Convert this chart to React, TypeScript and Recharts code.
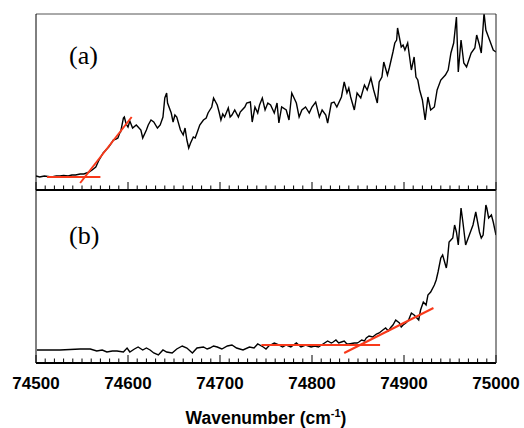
import { LineChart, Line, XAxis, YAxis, ReferenceLine } from "recharts";

// x axis: wavenumber in cm-1
const majorTicks = [74500, 74600, 74700, 74800, 74900, 75000];
const minorStep = 10;

// panel (a) spectrum
const wnA = [
  74500, 74504, 74509, 74513, 74517, 74522, 74526, 74530, 74535, 74539, 74543, 74548, 74552, 74555, 74558,
  74561, 74565, 74568, 74573, 74576, 74579, 74582, 74584, 74587, 74589, 74591, 74592, 74595, 74596, 74598,
  74600, 74602, 74605, 74609, 74611, 74614, 74616, 74620, 74622, 74625, 74628, 74632, 74635, 74638, 74640,
  74642, 74643, 74647, 74649, 74651, 74653, 74657, 74660, 74662, 74664, 74666, 74668, 74671, 74673, 74675,
  74678, 74682, 74685, 74687, 74689, 74691, 74693, 74697, 74699, 74701, 74703, 74705, 74709, 74711, 74713,
  74716, 74720, 74722, 74724, 74727, 74729, 74733, 74735, 74738, 74741, 74743, 74746, 74749, 74752, 74755,
  74759, 74762, 74764, 74767, 74772, 74775, 74778, 74780, 74783, 74786, 74789, 74793, 74797, 74800, 74804,
  74808, 74811, 74815, 74817, 74821, 74824, 74827, 74832, 74835, 74838, 74840, 74842, 74846, 74849, 74853,
  74857, 74860, 74864, 74867, 74871, 74873, 74876, 74878, 74882, 74884, 74886, 74888, 74890, 74892, 74893,
  74897, 74899, 74901, 74904, 74908, 74911, 74913, 74915, 74917, 74920, 74923, 74926, 74929, 74933, 74936,
  74940, 74945, 74948, 74951, 74954, 74957, 74959, 74962, 74965, 74968, 74973, 74977, 74979, 74982, 74984,
  74987, 74989, 74991, 74993, 74997, 75000,
];
const sigA = [
  14, 13, 14, 13.5, 13, 14, 14, 14.5, 14, 15, 15, 16, 16, 17, 18,
  20, 23, 29, 37, 40, 43, 47, 50, 51, 52, 57, 58, 72, 73, 66,
  63, 69, 62, 65, 63, 60, 52, 60, 65, 70, 68, 62, 65, 73, 92,
  97, 87, 77, 68, 75, 73, 60, 55, 62, 50, 42, 47, 53, 52, 57,
  65, 70, 72, 77, 80, 83, 92, 85, 78, 70, 76, 73, 82, 73, 75,
  80, 73, 78, 80, 83, 87, 88, 68, 83, 77, 85, 92, 80, 87, 85,
  77, 87, 67, 83, 80, 70, 97, 93, 87, 73, 80, 83, 77, 83, 88,
  73, 80, 75, 67, 87, 88, 83, 93, 108, 97, 102, 93, 80, 97, 92,
  105, 100, 112, 100, 87, 108, 113, 128, 115, 122, 130, 138, 147, 150, 162,
  143, 145, 140, 147, 120, 133, 113, 110, 100, 90, 70, 93, 80, 83, 100,
  110, 115, 120, 137, 147, 173, 118, 150, 127, 123, 137, 142, 155, 145, 137,
  177, 160, 155, 150, 140, 138,
];

// panel (a) fitted lines
const fitAFlatWn = [74512, 74570];
const fitAFlatVal = [13, 13];
const fitASlopeWn = [74548, 74604];
const fitASlopeVal = [7, 73];

// panel (b) spectrum
const wnB = [
  74501, 74513, 74526, 74537, 74548, 74559, 74566, 74572, 74577, 74583, 74588, 74595, 74599, 74602, 74607,
  74611, 74616, 74620, 74624, 74628, 74633, 74638, 74642, 74648, 74653, 74659, 74664, 74670, 74675, 74682,
  74686, 74689, 74693, 74697, 74702, 74708, 74713, 74718, 74725, 74732, 74737, 74741, 74747, 74750, 74753,
  74759, 74764, 74768, 74772, 74777, 74783, 74788, 74793, 74799, 74803, 74807, 74812, 74817, 74821, 74823,
  74826, 74829, 74832, 74835, 74838, 74840, 74846, 74849, 74851, 74854, 74857, 74859, 74862, 74866, 74870,
  74873, 74877, 74880, 74883, 74886, 74888, 74891, 74895, 74897, 74899, 74902, 74905, 74908, 74911, 74913,
  74916, 74918, 74921, 74924, 74926, 74929, 74933, 74935, 74937, 74940, 74942, 74946, 74947, 74949, 74951,
  74953, 74955, 74957, 74959, 74961, 74962, 74964, 74967, 74971, 74973, 74975, 74978, 74982, 74984, 74986,
  74989, 74990, 74992, 74995, 74997, 75000,
];
const sigB = [
  13, 13, 13, 13.5, 14, 14, 12, 13, 11, 12, 12, 11, 15, 11, 14,
  16, 13, 15, 13, 10, 8, 13, 11, 10, 14, 17, 15, 10, 15, 16,
  14, 15, 17, 16, 14, 17, 18, 15, 13, 16, 15, 19, 16, 14, 17,
  20, 18, 16, 18, 16, 20, 16, 18, 16, 17, 16, 19, 22, 20, 21,
  23, 20, 21, 22, 19, 19, 20, 20, 21, 23, 22, 25, 27, 26, 29,
  30, 33, 35, 32, 36, 38, 43, 40, 36, 38, 40, 43, 50, 48, 46,
  43, 53, 61, 58, 68, 71, 78, 83, 91, 105, 108, 95, 101, 121, 123,
  125, 138, 131, 118, 143, 155, 141, 118, 128, 133, 138, 151, 131, 125, 128,
  158, 155, 145, 148, 141, 128,
];

// panel (b) fitted lines
const fitBFlatWn = [74745, 74874];
const fitBFlatVal = [18, 18];
const fitBSlopeWn = [74835, 74932];
const fitBSlopeVal = [10, 55];

const minorTicks: number[] = [];
for (let t = majorTicks[0]; t <= majorTicks[majorTicks.length - 1]; t += minorStep) minorTicks.push(t);

const toRows = (wn: number[], vals: number[]) => wn.map((w, i) => ({ wn: w, v: vals[i] }));

const RED = "#f8391a";
const W = 524;
const FONT = "'Liberation Sans', Arial, sans-serif";

const noTick = () => <g />;

const LabelTick = (props: any) => {
  const { x, y, payload } = props;
  return (
    <text x={x} y={y + 24} textAnchor="middle" fontFamily={FONT} fontWeight="bold" fontSize={17} fill="#000">
      {payload.value}
    </text>
  );
};

// inward tick marks; the y scale of both panels is ~1 unit per pixel
const tickMarks = () =>
  minorTicks.map((t) => (
    <ReferenceLine
      key={t}
      xAxisId="b"
      yAxisId="l"
      segment={[
        { x: t, y: 0 },
        { x: t, y: t % 100 === 0 ? 8 : 4.5 },
      ]}
      stroke="#000"
      strokeWidth={1}
      ifOverflow="visible"
    />
  ));

const panelLabel: React.CSSProperties = {
  position: "absolute",
  left: 69,
  fontFamily: "'Liberation Serif', 'Times New Roman', serif",
  fontSize: 26,
  lineHeight: "26px",
  color: "#000",
};

export default function App() {
  return (
    <div style={{ position: "absolute", left: 0, top: 0, width: W, height: 428, background: "#fff" }}>
      <div style={{ position: "absolute", left: 0, top: 0 }}>
        <LineChart width={W} height={191} margin={{ top: 13, right: 27, left: 35, bottom: 0 }}>
          <XAxis
            xAxisId="b"
            dataKey="wn"
            type="number"
            domain={[74500, 75000]}
            ticks={majorTicks}
            height={1}
            tick={noTick}
            tickLine={false}
            axisLine={{ stroke: "#000", strokeWidth: 2 }}
            allowDataOverflow
          />
          <XAxis
            xAxisId="t"
            orientation="top"
            type="number"
            domain={[74500, 75000]}
            height={1}
            tick={false}
            tickLine={false}
            axisLine={{ stroke: "#555", strokeWidth: 1 }}
          />
          <YAxis yAxisId="l" type="number" domain={[0, 176]} width={1} tick={false} tickLine={false} axisLine={{ stroke: "#000" }} allowDataOverflow />
          <YAxis yAxisId="r" orientation="right" type="number" domain={[0, 176]} width={1} tick={false} tickLine={false} axisLine={{ stroke: "#222" }} />
          {tickMarks()}
          <Line xAxisId="b" yAxisId="l" data={toRows(wnA, sigA)} dataKey="v" stroke="#000" strokeWidth={1.4} dot={false} isAnimationActive={false} />
          <Line xAxisId="b" yAxisId="l" data={toRows(fitAFlatWn, fitAFlatVal)} dataKey="v" stroke={RED} strokeWidth={2} dot={false} isAnimationActive={false} />
          <Line xAxisId="b" yAxisId="l" data={toRows(fitASlopeWn, fitASlopeVal)} dataKey="v" stroke={RED} strokeWidth={2} dot={false} isAnimationActive={false} />
        </LineChart>
      </div>
      <div style={{ position: "absolute", left: 0, top: 190 }}>
        <LineChart width={W} height={238} margin={{ top: 0, right: 27, left: 35, bottom: 64 }}>
          <XAxis
            xAxisId="b"
            dataKey="wn"
            type="number"
            domain={[74500, 75000]}
            ticks={majorTicks}
            interval={0}
            height={1}
            tickSize={0}
            tickLine={false}
            tick={LabelTick}
            axisLine={{ stroke: "#000", strokeWidth: 2 }}
            allowDataOverflow
          />
          <YAxis yAxisId="l" type="number" domain={[0, 173]} width={1} tick={false} tickLine={false} axisLine={{ stroke: "#000" }} allowDataOverflow />
          <YAxis yAxisId="r" orientation="right" type="number" domain={[0, 173]} width={1} tick={false} tickLine={false} axisLine={{ stroke: "#222" }} />
          {tickMarks()}
          <Line xAxisId="b" yAxisId="l" data={toRows(wnB, sigB)} dataKey="v" stroke="#000" strokeWidth={1.4} dot={false} isAnimationActive={false} />
          <Line xAxisId="b" yAxisId="l" data={toRows(fitBFlatWn, fitBFlatVal)} dataKey="v" stroke={RED} strokeWidth={2} dot={false} isAnimationActive={false} />
          <Line xAxisId="b" yAxisId="l" data={toRows(fitBSlopeWn, fitBSlopeVal)} dataKey="v" stroke={RED} strokeWidth={2} dot={false} isAnimationActive={false} />
        </LineChart>
      </div>
      <div style={{ ...panelLabel, top: 43 }}>(a)</div>
      <div style={{ ...panelLabel, top: 223 }}>(b)</div>
      <div
        style={{
          position: "absolute",
          left: 116,
          width: 300,
          top: 410,
          textAlign: "center",
          fontFamily: FONT,
          fontWeight: "bold",
          fontSize: 17.5,
          lineHeight: "17px",
          color: "#000",
        }}
      >
        Wavenumber (cm<sup style={{ fontSize: 11, lineHeight: 0 }}>-1</sup>)
      </div>
    </div>
  );
}
